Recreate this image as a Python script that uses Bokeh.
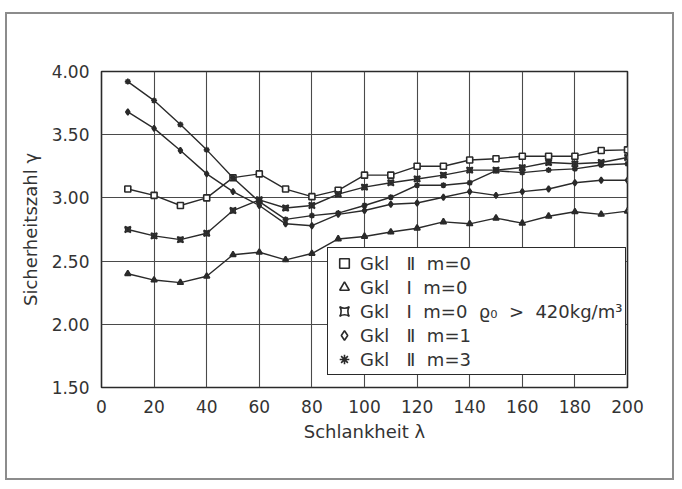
from bokeh.plotting import figure
from bokeh.models import (Legend, LegendItem, FixedTicker, NumeralTickFormatter,
                          ColumnDataSource)
from bokeh.embed import file_html
from bokeh.resources import INLINE

# ---- data -------------------------------------------------------------
lam = [10, 20, 30, 40, 50, 60, 70, 80, 90, 100,
       110, 120, 130, 140, 150, 160, 170, 180, 190, 200]

gkl2_m0 = [3.07, 3.02, 2.94, 3.00, 3.16, 3.19, 3.07, 3.01, 3.06, 3.18,
           3.18, 3.25, 3.25, 3.30, 3.31, 3.33, 3.33, 3.33, 3.375, 3.38]
gkl1_m0 = [2.40, 2.35, 2.33, 2.38, 2.55, 2.57, 2.51, 2.56, 2.675, 2.695,
           2.73, 2.76, 2.81, 2.795, 2.84, 2.80, 2.855, 2.89, 2.87, 2.895]
gkl1_m0_rho = [2.75, 2.70, 2.67, 2.72, 2.90, 2.985, 2.92, 2.94, 3.03, 3.085,
               3.12, 3.15, 3.18, 3.22, 3.22, 3.24, 3.28, 3.27, 3.28, 3.32]
gkl2_m1 = [3.68, 3.55, 3.375, 3.19, 3.05, 2.94, 2.795, 2.78, 2.87, 2.90,
           2.95, 2.96, 3.005, 3.05, 3.02, 3.05, 3.07, 3.12, 3.14, 3.14]
gkl2_m3 = [3.92, 3.77, 3.58, 3.38, 3.16, 2.97, 2.83, 2.86, 2.88, 2.94,
           3.005, 3.10, 3.10, 3.12, 3.215, 3.20, 3.22, 3.23, 3.26, 3.27]

NB = "\u00a0"
series_names = ["Gkl" + NB * 3 + "\u2161" + NB * 2 + "m=0",
                "Gkl" + NB * 3 + "I" + NB * 2 + "m=0",
                "Gkl" + NB * 3 + "I" + NB * 2 + "m=0" + NB * 2 + "\u03f1\u2080" + NB * 2 + ">" + NB * 2 + "420kg/m\u00b3",
                "Gkl" + NB * 3 + "\u2161" + NB * 2 + "m=1",
                "Gkl" + NB * 3 + "\u2161" + NB * 2 + "m=3"]
series_values = [gkl2_m0, gkl1_m0, gkl1_m0_rho, gkl2_m1, gkl2_m3]
series_markers = ["square", "triangle", "square_pin", "diamond", "asterisk"]

x_ticks = [0, 20, 40, 60, 80, 100, 120, 140, 160, 180, 200]
y_ticks = [1.5, 2.0, 2.5, 3.0, 3.5, 4.0]

# ---- figure -----------------------------------------------------------
FONT = "DejaVu Sans"
INK = "#2a2a2a"
TXT = "#333333"

p = figure(width=669, height=468, x_range=(0, 200), y_range=(1.5, 4.0),
           output_backend="svg", toolbar_location=None)
p.styles = {"margin-left": "5px", "margin-top": "12px",
            "border": "2px solid #8c8c8c"}
p.min_border_left = 94
p.min_border_right = 49
p.min_border_top = 57
p.min_border_bottom = 95
p.background_fill_color = "white"
p.border_fill_color = "white"
p.outline_line_color = INK
p.outline_line_width = 1.6

p.xaxis.ticker = FixedTicker(ticks=x_ticks)
p.yaxis.ticker = FixedTicker(ticks=y_ticks)
p.yaxis.formatter = NumeralTickFormatter(format="0.00")
p.xgrid.ticker = FixedTicker(ticks=x_ticks)
p.ygrid.ticker = FixedTicker(ticks=y_ticks)
for g in (p.xgrid, p.ygrid):
    g.grid_line_color = "#4a4a4a"
    g.grid_line_width = 1.1

for ax in (p.xaxis, p.yaxis):
    ax.axis_line_color = None
    ax.major_tick_line_color = None
    ax.minor_tick_line_color = None
    ax.major_label_text_font = FONT
    ax.major_label_text_font_size = "17px"
    ax.major_label_text_color = TXT
    ax.major_label_standoff = 6
    ax.axis_label_text_font = FONT
    ax.axis_label_text_font_size = "18px"
    ax.axis_label_text_font_style = "normal"
    ax.axis_label_text_color = TXT

p.xaxis.axis_label = "Schlankheit \u03bb"
p.yaxis.axis_label = "Sicherheitszahl \u03b3"
p.xaxis.axis_label_standoff = 5
p.yaxis.axis_label_standoff = 8

items = []
for name, vals, mk in zip(series_names, series_values, series_markers):
    src = ColumnDataSource(dict(x=lam, y=vals))
    p.line("x", "y", source=src, line_color=INK, line_width=1.4)
    r = p.scatter("x", "y", source=src, marker=mk, size=6, line_color=INK,
                  fill_color="white", line_width=1.6)
    if mk != "square":
        # the small plotter symbols read as dark dots in the printed chart
        p.scatter("x", "y", source=src, marker="circle", size=3.5,
                  line_color=INK, fill_color=INK)
    items.append(LegendItem(label=name, renderers=[r]))

legend = Legend(items=items, location=(226, 12))
legend.border_line_color = INK
legend.border_line_width = 1.5
legend.border_line_alpha = 1.0
legend.background_fill_color = "white"
legend.background_fill_alpha = 1.0
legend.label_text_font = FONT
legend.label_text_font_size = "18px"
legend.label_text_color = TXT
legend.glyph_width = 26
legend.glyph_height = 24
legend.label_height = 24
legend.spacing = 0
legend.padding = 3
legend.margin = 0
legend.label_standoff = 3
p.add_layout(legend, "center")

open("out.html", "w").write(file_html(p, INLINE))
